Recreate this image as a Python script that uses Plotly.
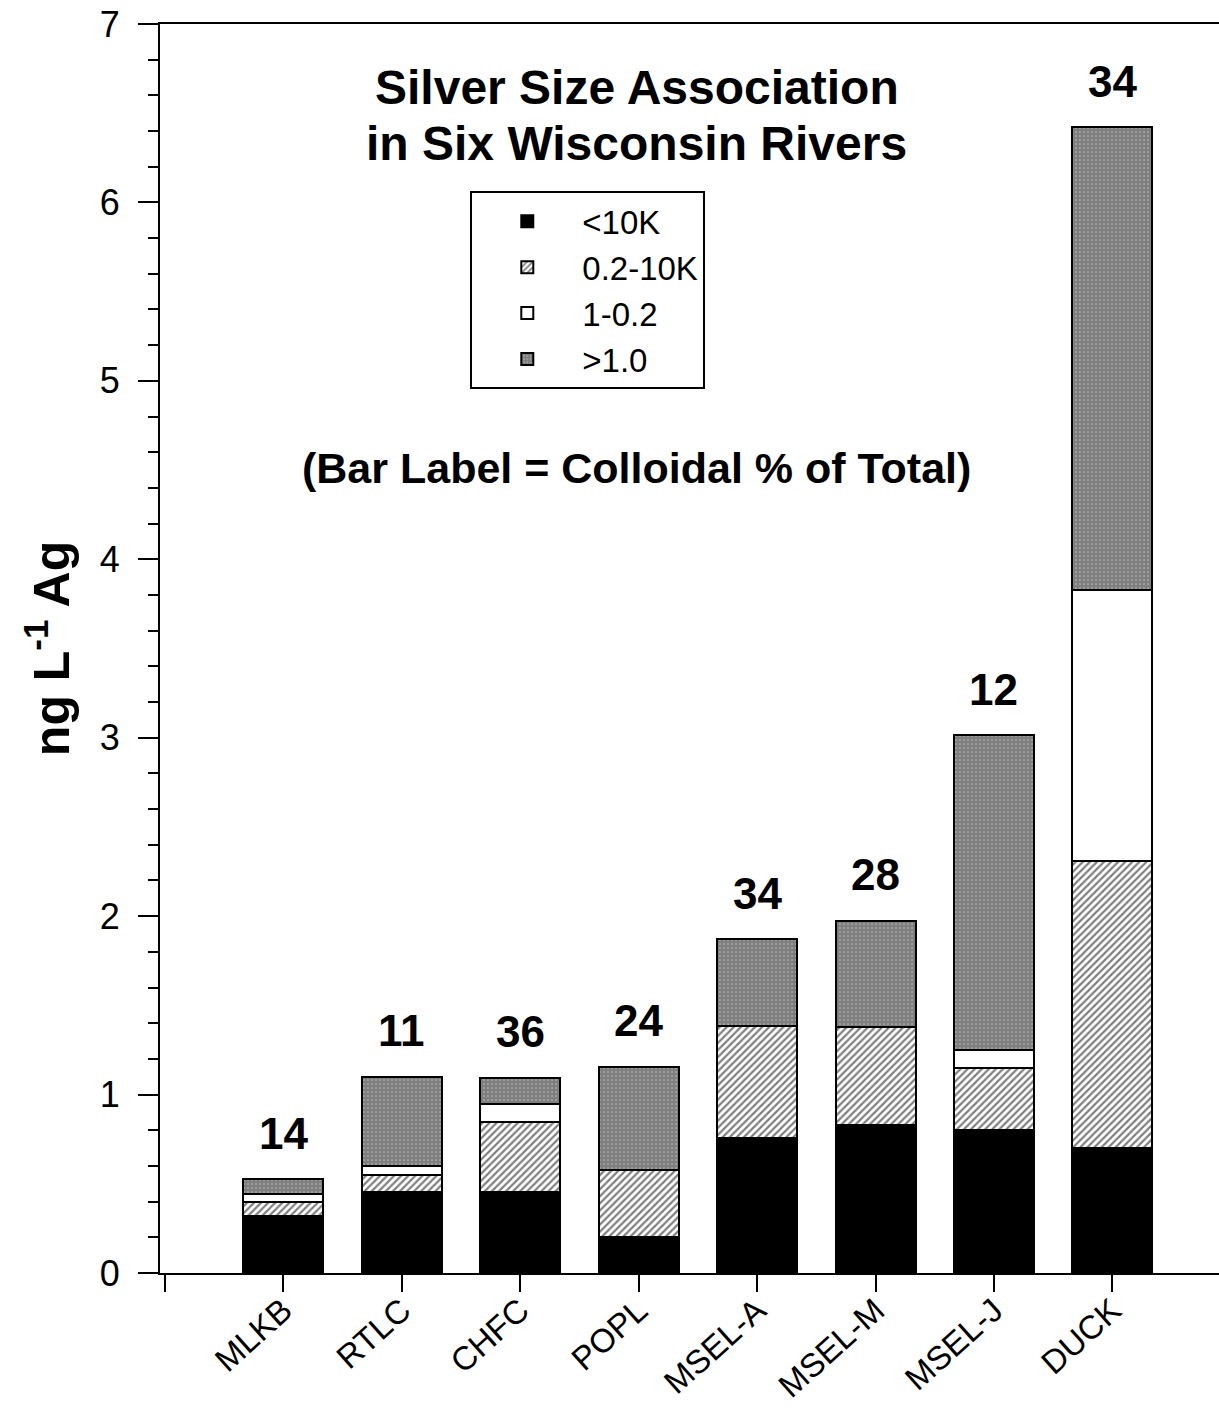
import plotly.graph_objects as go

rivers = ["MLKB", "RTLC", "CHFC", "POPL", "MSEL-A", "MSEL-M", "MSEL-J", "DUCK"]
lt_10k = [0.32, 0.455, 0.455, 0.20, 0.755, 0.83, 0.80, 0.70]
r_02_10k = [0.08, 0.095, 0.39, 0.375, 0.63, 0.55, 0.35, 1.61]
r_1_02 = [0.045, 0.05, 0.10, 0.0, 0.0, 0.0, 0.10, 1.52]
gt_1 = [0.08, 0.50, 0.15, 0.58, 0.485, 0.595, 1.765, 2.59]
colloidal_pct = [14, 11, 36, 24, 34, 28, 12, 34]

series_names = ["<10K", "0.2-10K", "1-0.2", ">1.0"]
y_ticks = [0, 1, 2, 3, 4, 5, 6, 7]

FONT = "Arial, Liberation Sans, sans-serif"
xpos = list(range(len(rivers)))

fig = go.Figure()
line = dict(color="black", width=2)
fig.add_trace(go.Bar(x=xpos, y=lt_10k, name=series_names[0],
                     marker=dict(color="black", line=line)))
fig.add_trace(go.Bar(x=xpos, y=r_02_10k, name=series_names[1],
                     marker=dict(color="white", line=line,
                                 pattern=dict(shape="/", fgcolor="black", bgcolor="white",
                                              size=5, solidity=0.45))))
fig.add_trace(go.Bar(x=xpos, y=r_1_02, name=series_names[2],
                     marker=dict(color="white", line=line)))
fig.add_trace(go.Bar(x=xpos, y=gt_1, name=series_names[3],
                     marker=dict(color="white", line=line,
                                 pattern=dict(shape=".", fgcolor="black", bgcolor="white",
                                              size=4, solidity=0.85))))

totals = [a + b + c + d for a, b, c, d in zip(lt_10k, r_02_10k, r_1_02, gt_1)]
annotations = []
for i, (t, lab) in enumerate(zip(totals, colloidal_pct)):
    annotations.append(dict(x=i, y=t, xref="x", yref="y", text=f"<b>{lab}</b>",
                            showarrow=False, yshift=46, yanchor="middle",
                            font=dict(family=FONT, size=44, color="black")))

annotations += [
    dict(x=0.4504, y=0.9488, xref="paper", yref="paper", text="<b>Silver Size Association</b>",
         showarrow=False, xanchor="center", yanchor="middle",
         font=dict(family=FONT, size=48, color="black")),
    dict(x=0.4504, y=0.9047, xref="paper", yref="paper", text="<b>in Six Wisconsin Rivers</b>",
         showarrow=False, xanchor="center", yanchor="middle",
         font=dict(family=FONT, size=48, color="black")),
    dict(x=0.4504, y=0.6445, xref="paper", yref="paper",
         text="<b>(Bar Label = Colloidal % of Total)</b>",
         showarrow=False, xanchor="center", yanchor="middle",
         font=dict(family=FONT, size=43, color="black")),
]

fig.update_layout(
    width=1219, height=1411,
    margin=dict(l=160, r=0, t=24, b=138),
    paper_bgcolor="white", plot_bgcolor="white",
    barmode="stack", bargap=0.324,
    showlegend=True,
    legend=dict(x=0.293, y=0.866, xanchor="left", yanchor="top",
                bordercolor="black", borderwidth=2, bgcolor="white",
                traceorder="normal", itemwidth=100,
                font=dict(family=FONT, size=33, color="black")),
    annotations=annotations,
    font=dict(family=FONT, color="black"),
)

fig.update_xaxes(
    range=[-1.042, 7.90], tickmode="array",
    tickvals=xpos, ticktext=rivers, automargin=False,
    tickangle=-42, ticks="outside", ticklen=17, tickwidth=2, tickcolor="black",
    minor=dict(tick0=-1, dtick=1, ticks="outside", ticklen=17, tickwidth=2, tickcolor="black"),
    showline=True, linecolor="black", linewidth=2, mirror=True,
    showgrid=False, zeroline=False,
    ticklabelstandoff=-14,
    tickfont=dict(family=FONT, size=33, color="black"),
)
fig.update_yaxes(
    range=[0, 7], tickmode="array", tickvals=y_ticks, automargin=False,
    ticks="outside", ticklen=20, tickwidth=2, tickcolor="black",
    minor=dict(dtick=0.2, ticks="outside", ticklen=10, tickwidth=2, tickcolor="black"),
    showline=True, linecolor="black", linewidth=2,
    showgrid=False, zeroline=False,
    ticklabelstandoff=11,
    tickfont=dict(family=FONT, size=36, color="black"),
    title=dict(text="<b>ng L<sup>-1</sup> Ag</b>", standoff=14,
               font=dict(family=FONT, size=50, color="black")),
)

fig.write_html("out.html")
